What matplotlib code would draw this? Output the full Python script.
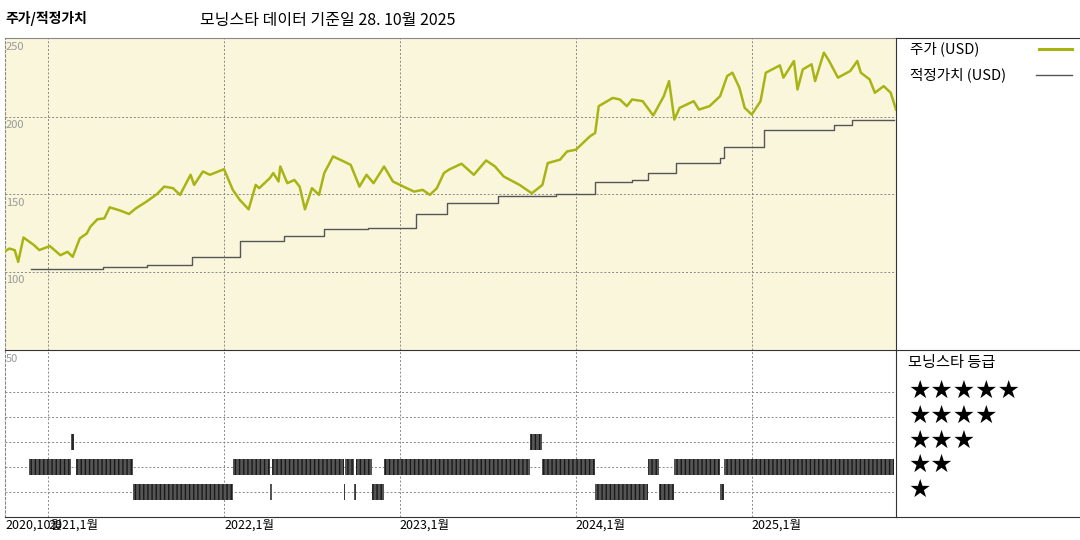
import matplotlib
matplotlib.use("Agg")
import matplotlib.pyplot as plt

plt.rcParams['font.family'] = ['Noto Sans CJK KR', 'DejaVu Sans']

# ----- data (decimal years) -----
price_t = [2020.75, 2020.78, 2020.81, 2020.83, 2020.86, 2020.92, 2020.95, 2021.01, 2021.07, 2021.11,
           2021.14, 2021.18, 2021.22, 2021.24, 2021.28, 2021.32, 2021.35, 2021.41, 2021.46, 2021.50,
           2021.56, 2021.62, 2021.66, 2021.71, 2021.75, 2021.81, 2021.83, 2021.88, 2021.92, 2022.00,
           2022.05, 2022.09, 2022.14, 2022.18, 2022.20, 2022.26, 2022.28, 2022.31, 2022.32, 2022.36,
           2022.40, 2022.43, 2022.46, 2022.50, 2022.54, 2022.57, 2022.62, 2022.68, 2022.72, 2022.77,
           2022.81, 2022.85, 2022.91, 2022.96, 2023.02, 2023.08, 2023.13, 2023.17, 2023.21, 2023.25,
           2023.28, 2023.35, 2023.42, 2023.49, 2023.54, 2023.59, 2023.68, 2023.75, 2023.81, 2023.84,
           2023.91, 2023.95, 2024.00, 2024.08, 2024.11, 2024.13, 2024.21, 2024.25, 2024.29, 2024.32,
           2024.38, 2024.44, 2024.50, 2024.53, 2024.56, 2024.59, 2024.67, 2024.70, 2024.76, 2024.82,
           2024.86, 2024.89, 2024.93, 2024.96, 2025.00, 2025.05, 2025.08, 2025.16, 2025.18, 2025.24,
           2025.26, 2025.29, 2025.34, 2025.36, 2025.41, 2025.44, 2025.49, 2025.56, 2025.60, 2025.62,
           2025.67, 2025.70, 2025.75, 2025.79, 2025.82]
price_v = [113.1, 115.2, 114.2, 106.6, 122.3, 117.4, 114.2, 116.8, 110.9, 113.1,
           109.9, 121.7, 124.9, 129.2, 134.0, 134.6, 141.7, 139.6, 137.4, 141.1,
           145.4, 150.3, 155.0, 154.0, 149.7, 162.6, 156.1, 164.7, 162.6, 166.2,
           152.9, 146.4, 140.4, 156.1, 154.0, 160.4, 163.7, 158.3, 167.9, 157.2,
           159.3, 155.0, 140.4, 154.0, 149.7, 163.7, 174.4, 171.2, 169.0, 155.0,
           162.6, 157.2, 167.9, 158.3, 155.0, 151.8, 152.9, 149.7, 154.0, 163.7,
           166.0, 169.7, 162.6, 171.8, 168.0, 161.5, 156.1, 150.7, 156.1, 170.1,
           172.3, 177.6, 178.7, 187.3, 189.5, 206.7, 212.0, 211.0, 206.7, 211.0,
           209.9, 200.7, 213.1, 222.8, 198.1, 205.6, 209.9, 204.5, 206.7, 213.1,
           226.0, 228.2, 218.5, 205.6, 201.3, 209.9, 228.2, 232.9, 225.0, 235.7,
           217.4, 230.3, 233.6, 222.8, 241.1, 235.7, 225.0, 229.3, 235.7, 228.2,
           223.9, 215.3, 219.6, 215.3, 204.5]

fair_t = [2020.90, 2021.31, 2021.56, 2021.82, 2022.09, 2022.34, 2022.57, 2022.82, 2023.09, 2023.27,
          2023.56, 2023.89, 2024.11, 2024.32, 2024.41, 2024.57, 2024.82, 2024.84, 2025.07, 2025.47,
          2025.57, 2025.81]
fair_v = [101.9, 103.4, 104.5, 109.7, 120.0, 123.2, 127.7, 128.4, 137.4, 144.5,
          149.0, 150.3, 158.1, 159.4, 163.9, 170.3, 173.5, 180.6, 191.6, 194.8,
          198.1, 198.1]

rating_start = [2020.89, 2021.13, 2021.16, 2021.48, 2022.05, 2022.26, 2022.27, 2022.68, 2022.69, 2022.74,
                2022.75, 2022.84, 2022.91, 2023.74, 2023.81, 2024.11, 2024.41, 2024.47, 2024.56, 2024.82,
                2024.84]
rating_end = [2021.13, 2021.15, 2021.48, 2022.05, 2022.26, 2022.27, 2022.68, 2022.69, 2022.74, 2022.75,
              2022.84, 2022.91, 2023.74, 2023.81, 2024.11, 2024.41, 2024.47, 2024.56, 2024.82, 2024.84,
              2025.81]
rating_star = [2, 3, 2, 1, 2, 1, 2, 1, 2, 1,
               2, 1, 2, 3, 2, 1, 2, 1, 2, 1,
               2]

year_ticks = [2021, 2022, 2023, 2024, 2025]
year_labels = ["2021,1월", "2022,1월", "2023,1월", "2024,1월", "2025,1월"]

W, H = 1080, 540
fig = plt.figure(figsize=(10.8, 5.4), dpi=100)

def box(l, t, r, b):
    return [l / W, 1 - b / H, (r - l) / W, (b - t) / H]

x0, x1 = 2020.755, 2025.82
grid_kw = dict(color="#888888", linestyle=(0, (2, 2)), linewidth=0.7)

# ----- top: price / fair value -----
ax = fig.add_axes(box(5, 38, 896, 350))
ax.set_facecolor("#faf6dc")
ax.plot(price_t, price_v, color="#a8b414", linewidth=1.8, zorder=3)
ax.step(fair_t, fair_v, where="post", color="#555555", linewidth=1.0, zorder=3)
ax.set_xlim(x0, x1)
ax.set_ylim(50, 250.5)
for y in [100, 150, 200]:
    ax.axhline(y, **grid_kw)
for x in year_ticks:
    ax.axvline(x, **grid_kw)
for y in [100, 150, 200, 250]:
    ax.text(x0 + 0.005, y - 2, str(y), color="#999999", fontsize=8, va="top", ha="left")
ax.set_xticks([]); ax.set_yticks([])
for s in ax.spines.values():
    s.set_color("#888888"); s.set_linewidth(0.8)
ax.spines["left"].set_linestyle((0, (2, 2)))
ax.spines["bottom"].set_visible(False)
ax.spines["right"].set_color("#333333")

# ----- bottom: star rating -----
bx = fig.add_axes(box(5, 350, 896, 517))
bx.set_xlim(x0, x1)
bx.set_ylim(0, 6.7)
for y in [1, 2, 3, 4, 5]:
    bx.axhline(y, **grid_kw)
for x in year_ticks:
    bx.axvline(x, **grid_kw)
for s, e, r in zip(rating_start, rating_end, rating_star):
    bx.broken_barh([(s, e - s)], (r - 0.33, 0.66), facecolor="#555555",
                   edgecolor="#1a1a1a", hatch="||||", linewidth=0, zorder=3)
bx.text(x0 + 0.005, 6.55, "50", color="#999999", fontsize=8, va="top", ha="left")
bx.set_yticks([])
bx.set_xticks([x0] + year_ticks)
bx.set_xticklabels(["2020,10월"] + year_labels, fontsize=9, ha="left")
bx.tick_params(axis="x", length=0, pad=1)
for s in bx.spines.values():
    s.set_color("#888888"); s.set_linewidth(0.8)
bx.spines["left"].set_linestyle((0, (2, 2)))
bx.spines["bottom"].set_color("#333333")
bx.spines["right"].set_color("#333333")
bx.spines["top"].set_color("#333333")

# ----- right side legend panels -----
lx = fig.add_axes(box(896, 38, 1080, 350))
lx.set_xlim(0, 184); lx.set_ylim(312, 0)
lx.axis("off")
lx.text(14, 11, "주가 (USD)", fontsize=10.5, va="center")
lx.plot([143, 176], [11, 11], color="#a8b414", linewidth=2.2)
lx.text(14, 37, "적정가치 (USD)", fontsize=10.5, va="center")
lx.plot([140, 176], [37, 37], color="#555555", linewidth=1.0)

rx = fig.add_axes(box(896, 350, 1080, 517))
rx.set_xlim(0, 184); rx.set_ylim(167, 0)
rx.axis("off")
rx.text(12, 12, "모닝스타 등급", fontsize=11, va="center")
for i, n in enumerate([5, 4, 3, 2, 1]):
    rx.text(12, 41 + i * 24.7, "★" * n, fontsize=18, va="center", family="DejaVu Sans")

fig.add_artist(plt.Line2D([896 / W, 1], [1 - 38 / H] * 2, color="#333333", linewidth=0.8))
fig.add_artist(plt.Line2D([896 / W, 1], [1 - 350 / H] * 2, color="#333333", linewidth=0.8))
fig.add_artist(plt.Line2D([896 / W, 1], [1 - 517 / H] * 2, color="#333333", linewidth=0.8))

fig.text(5 / W, 1 - 18 / H, "주가/적정가치", fontsize=10, fontweight="bold", va="center")
fig.text(200 / W, 1 - 20 / H, "모닝스타 데이터 기준일 28. 10월 2025", fontsize=11.5, va="center")

fig.savefig("out.png", dpi=100)
